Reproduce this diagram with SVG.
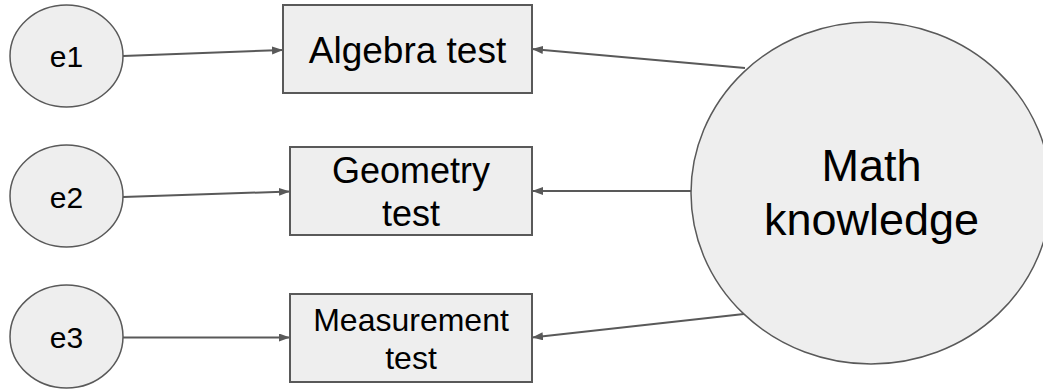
<svg xmlns="http://www.w3.org/2000/svg" width="1043" height="390" viewBox="0 0 1043 390">
<style>
.shape{fill:#eeeeee;stroke:#595959;}
.ell{stroke-width:1.5;}
.box{stroke-width:2;}
.conn{stroke:#595959;stroke-width:2;fill:none;marker-end:url(#arr);}
text{font-family:"Liberation Sans",Arial,sans-serif;fill:#000;text-anchor:middle;}
</style>
<defs>
<marker id="arr" markerUnits="userSpaceOnUse" markerWidth="12" markerHeight="9" refX="11" refY="4" orient="auto">
<path d="M0,0 L11,4 L0,8 z" fill="#595959"/>
</marker>
</defs>
<g id="connectors">
<line class="conn" x1="123" y1="56" x2="283" y2="50"/>
<line class="conn" x1="123" y1="197" x2="290" y2="191.5"/>
<line class="conn" x1="123" y1="337.5" x2="290" y2="337.5"/>
<line class="conn" x1="745" y1="68" x2="532" y2="49"/>
<line class="conn" x1="691" y1="191" x2="532" y2="191"/>
<line class="conn" x1="744" y1="314" x2="532" y2="337.5"/>
</g>
<g id="e1">
<ellipse class="shape ell" cx="66.5" cy="56" rx="56.5" ry="51"/>
<text x="66.5" y="67" font-size="30">e1</text>
</g>
<g id="e2">
<ellipse class="shape ell" cx="66.5" cy="196" rx="56.5" ry="51"/>
<text x="66.5" y="207.5" font-size="30">e2</text>
</g>
<g id="e3">
<ellipse class="shape ell" cx="66.5" cy="336.5" rx="56.5" ry="51.5"/>
<text x="66.5" y="347.5" font-size="30">e3</text>
</g>
<g id="algebra">
<rect class="shape box" x="283" y="5" width="249" height="88"/>
<text x="407.5" y="63" font-size="37">Algebra test</text>
</g>
<g id="geometry">
<rect class="shape box" x="290" y="147" width="242" height="88"/>
<text x="411" y="182.5" font-size="36">Geometry</text>
<text x="411" y="226" font-size="36">test</text>
</g>
<g id="measurement">
<rect class="shape box" x="290" y="294" width="242" height="88"/>
<text x="411" y="331" font-size="32">Measurement</text>
<text x="411" y="369" font-size="32">test</text>
</g>
<g id="math">
<ellipse class="shape ell" cx="871" cy="193" rx="180" ry="171"/>
<text x="871.5" y="181" font-size="45">Math</text>
<text x="871.5" y="235" font-size="45">knowledge</text>
</g>
</svg>
